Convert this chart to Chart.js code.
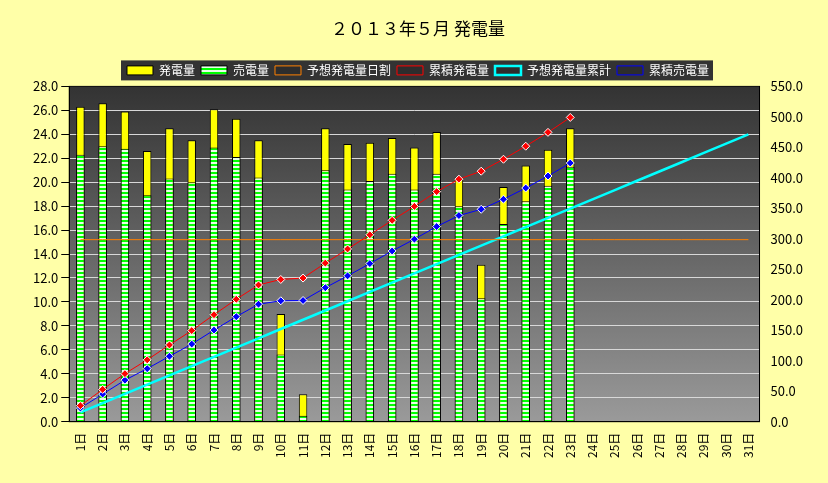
<!DOCTYPE html><html><head><meta charset="utf-8">
<script src="https://cdn.jsdelivr.net/npm/chart.js@4/dist/chart.umd.min.js"></script>
<style>html,body{margin:0;padding:0;background:#FFFFA8}#w{width:828px;height:483px}</style></head><body>
<div id="w"><canvas id="c"></canvas></div>
<script>
const days=[];for(let i=1;i<=31;i++)days.push(i+'日');
const generation=[26.3,26.6,25.9,22.6,24.5,23.5,26.1,25.3,23.5,9.0,2.3,24.5,23.2,23.3,23.7,22.9,24.2,20.4,13.1,19.6,21.4,22.7,24.5];
const sold=[22.3,23.0,22.8,18.9,20.3,20.0,22.9,22.1,20.4,5.6,0.5,21.0,19.4,20.1,20.7,19.4,20.7,18.0,10.3,16.5,18.4,19.7,21.3];
const expectedDaily=[15.2,15.2,15.2,15.2,15.2,15.2,15.2,15.2,15.2,15.2,15.2,15.2,15.2,15.2,15.2,15.2,15.2,15.2,15.2,15.2,15.2,15.2,15.2,15.2,15.2,15.2,15.2,15.2,15.2,15.2,15.2];
const cumGeneration=[26.3,52.9,78.8,101.4,125.9,149.4,175.5,200.8,224.3,233.3,235.6,260.1,283.3,306.6,330.3,353.2,377.4,397.8,410.9,430.5,451.9,474.6,499.1];
const cumExpected=[15.2,30.4,45.6,60.8,76.0,91.2,106.4,121.6,136.8,152.0,167.2,182.4,197.6,212.8,228.0,243.2,258.4,273.6,288.8,304.0,319.2,334.4,349.6,364.8,380.0,395.2,410.4,425.6,440.8,456.0,471.2];
const cumSold=[22.3,45.3,68.1,87.0,107.3,127.3,150.2,172.3,192.7,198.3,198.8,219.8,239.2,259.3,280.0,299.4,320.1,338.1,348.4,364.9,383.3,403.0,424.3];

const pc=document.createElement('canvas');pc.width=4;pc.height=4;const px=pc.getContext('2d');
px.fillStyle='#00FF00';px.fillRect(0,0,4,2);px.fillStyle='#E8FFE8';px.fillRect(0,2,4,2);
const ctx=document.getElementById('c').getContext('2d');
const pattern=ctx.createPattern(pc,'repeat');
const F="'Noto Sans CJK JP'";
const bgPlugin={id:'bg',beforeDraw(ch){const c=ch.ctx,a=ch.chartArea;
 c.save();const g=c.createLinearGradient(0,a.top,0,a.bottom);g.addColorStop(0,'#333333');g.addColorStop(1,'#9a9a9a');
 c.fillStyle=g;c.fillRect(a.left,a.top,a.right-a.left,a.bottom-a.top);
 const L=ch.legend,h=L.legendHitBoxes;if(h&&h.length){const x0=Math.min(...h.map(b=>b.left))-6,x1=Math.max(...h.map(b=>b.left+b.width))+4;
 const y0=Math.min(...h.map(b=>b.top))-4,y1=Math.max(...h.map(b=>b.top+b.height))+4;
 c.fillStyle='#333333';c.fillRect(x0,y0,x1-x0,y1-y0);}c.restore();},
 afterDraw(ch){const c=ch.ctx,a=ch.chartArea;c.save();c.strokeStyle='#000';c.lineWidth=1;c.strokeRect(a.left,a.top,a.right-a.left,a.bottom-a.top);c.restore();}};
Chart.defaults.font.family=F;Chart.defaults.color='#000';
new Chart(ctx,{data:{labels:days,datasets:[
 {type:'line',label:'予想発電量日割',data:expectedDaily,borderColor:'#FF8000',borderWidth:1,pointRadius:0,yAxisID:'y',order:1},
 {type:'line',label:'累積発電量',data:cumGeneration,borderColor:'#FF0000',borderWidth:1,pointStyle:'rectRot',pointRadius:4,pointBackgroundColor:'#FF0000',pointBorderColor:'#FFFFFF',pointBorderWidth:1,yAxisID:'y1',order:0},
 {type:'line',label:'予想発電量累計',data:cumExpected,borderColor:'#00FFFF',borderWidth:2.5,pointRadius:0,yAxisID:'y1',order:2},
 {type:'line',label:'累積売電量',data:cumSold,borderColor:'#0000FF',borderWidth:1,pointStyle:'rectRot',pointRadius:4,pointBackgroundColor:'#0000FF',pointBorderColor:'#FFFFFF',pointBorderWidth:1,yAxisID:'y1',order:0},
 {type:'bar',label:'発電量',data:generation,backgroundColor:'#FFFF00',borderColor:'#000',borderWidth:1,barPercentage:0.38,categoryPercentage:1,grouped:false,yAxisID:'y',order:4},
 {type:'bar',label:'売電量',data:sold,backgroundColor:pattern,borderColor:'#000',borderWidth:1,barPercentage:0.38,categoryPercentage:1,grouped:false,yAxisID:'y',order:3}
]},
options:{responsive:true,maintainAspectRatio:false,animation:false,
 layout:{padding:{left:30,right:22,top:4,bottom:22}},
 plugins:{title:{display:true,text:'２０１３年５月 発電量',font:{size:17,weight:'normal'},color:'#000',padding:{top:14,bottom:20}},
  legend:{labels:{color:'#fff',font:{size:12},boxWidth:26,boxHeight:9,padding:6,
   sort:(a,b)=>{const o=['発電量','売電量','予想発電量日割','累積発電量','予想発電量累計','累積売電量'];return o.indexOf(a.text)-o.indexOf(b.text);}}},
  tooltip:{enabled:false}},
 scales:{
  x:{grid:{display:false},border:{color:'#000'},ticks:{minRotation:90,maxRotation:90,font:{size:12},color:'#000'}},
  y:{position:'left',min:0,max:28,grid:{color:'#d8d8d8',drawTicks:true,tickColor:'#000'},border:{color:'#000'},ticks:{stepSize:2,callback:v=>v.toFixed(1),font:{size:13},color:'#000'}},
  y1:{position:'right',min:0,max:550,grid:{display:false},border:{color:'#000'},ticks:{stepSize:50,callback:v=>v.toFixed(1),font:{size:13},color:'#000'}}
 }},plugins:[bgPlugin]});
</script></body></html>
